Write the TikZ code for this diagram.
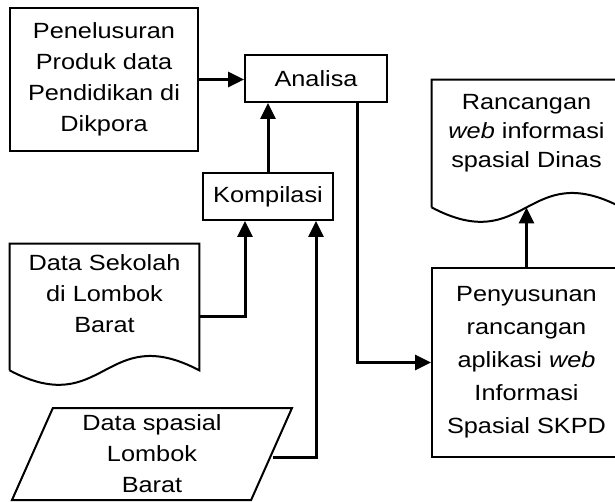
\documentclass[tikz,border=0pt]{standalone}
\usepackage{fontspec}
\setmainfont[FakeStretch=1.15]{Liberation Sans}
\usetikzlibrary{arrows.meta,shapes.geometric}

\begin{document}
\begin{tikzpicture}[x=0.5pt,y=-0.5pt,
    box/.style={draw,line width=1pt,align=center,inner sep=0pt,font=\fontsize{11}{15.5}\selectfont},
    doc/.style={inner sep=0pt,minimum width=94.5pt},
    txt/.style={align=center,inner sep=0pt,font=\fontsize{11}{15.5}\selectfont},
    arr/.style={-{Triangle[length=8pt,width=7.5pt]},line width=1.5pt}]
    \useasboundingbox (0,0) rectangle (615,502);
    \clip (0,0) rectangle (615,502);
    \node[box,minimum width=94pt,minimum height=71.5pt] (penelusuran) at (104,79.5) {Penelusuran\\Produk data\\Pendidikan di\\Dikpora};
    \node[box,minimum width=71pt,minimum height=23.5pt] (analisa) at (316,78.5) {Analisa};
    \node[box,minimum width=65pt,minimum height=23.5pt] (kompilasi) at (268,196.5) {Kompilasi};
    \node[doc,minimum height=63pt] (sekolah) at (104.5,307) {};
    \node[txt] (sekolahtxt) at ([yshift=6.5pt]sekolah.center) {Data Sekolah\\di Lombok\\Barat};
    \node[box,trapezium,trapezium left angle=62.4,trapezium right angle=117.6,trapezium stretches body,minimum width=140pt,minimum height=46pt] (spasial) at (152,454) {Data spasial\\Lombok\\Barat};
    \node[doc,minimum height=63.5pt] (rancangan) at (526.5,143.5) {};
    \node[txt,font=\fontsize{11}{14.5}\selectfont] (rancangantxt) at ([yshift=5pt]rancangan.center) {Rancangan\\\textit{web} informasi\\spasial Dinas};
    \node[box,minimum width=94.5pt,minimum height=94.5pt,font=\fontsize{11}{16.5}\selectfont] (penyusunan) at (526.5,362.5) {Penyusunan\\rancangan\\aplikasi \textit{web}\\Informasi\\Spasial SKPD};
    \foreach \n in {sekolah,rancangan}
        \draw[line width=1pt] (\n.south west) -- (\n.north west) -- (\n.north east) -- (\n.south east)
            .. controls ([yshift=25pt]\n.south) and ([yshift=-25pt]\n.south) .. (\n.south west);
    \draw[arr] (penelusuran.east) -- (penelusuran.east -| analisa.west);
    \draw[arr] (kompilasi.north) -- (kompilasi.north |- analisa.south);
    \draw[arr] ([yshift=-4.5pt]sekolah.east) -| ([xshift=-11.5pt]kompilasi.south);
    \draw[arr] ([yshift=-1.5pt]spasial.east) -| ([xshift=24pt]kompilasi.south);
    \draw[arr] ([xshift=20.5pt]analisa.south) |- (penyusunan.west);
    \draw[arr] (penyusunan.north) -- (rancangan.south);
\end{tikzpicture}
\end{document}
